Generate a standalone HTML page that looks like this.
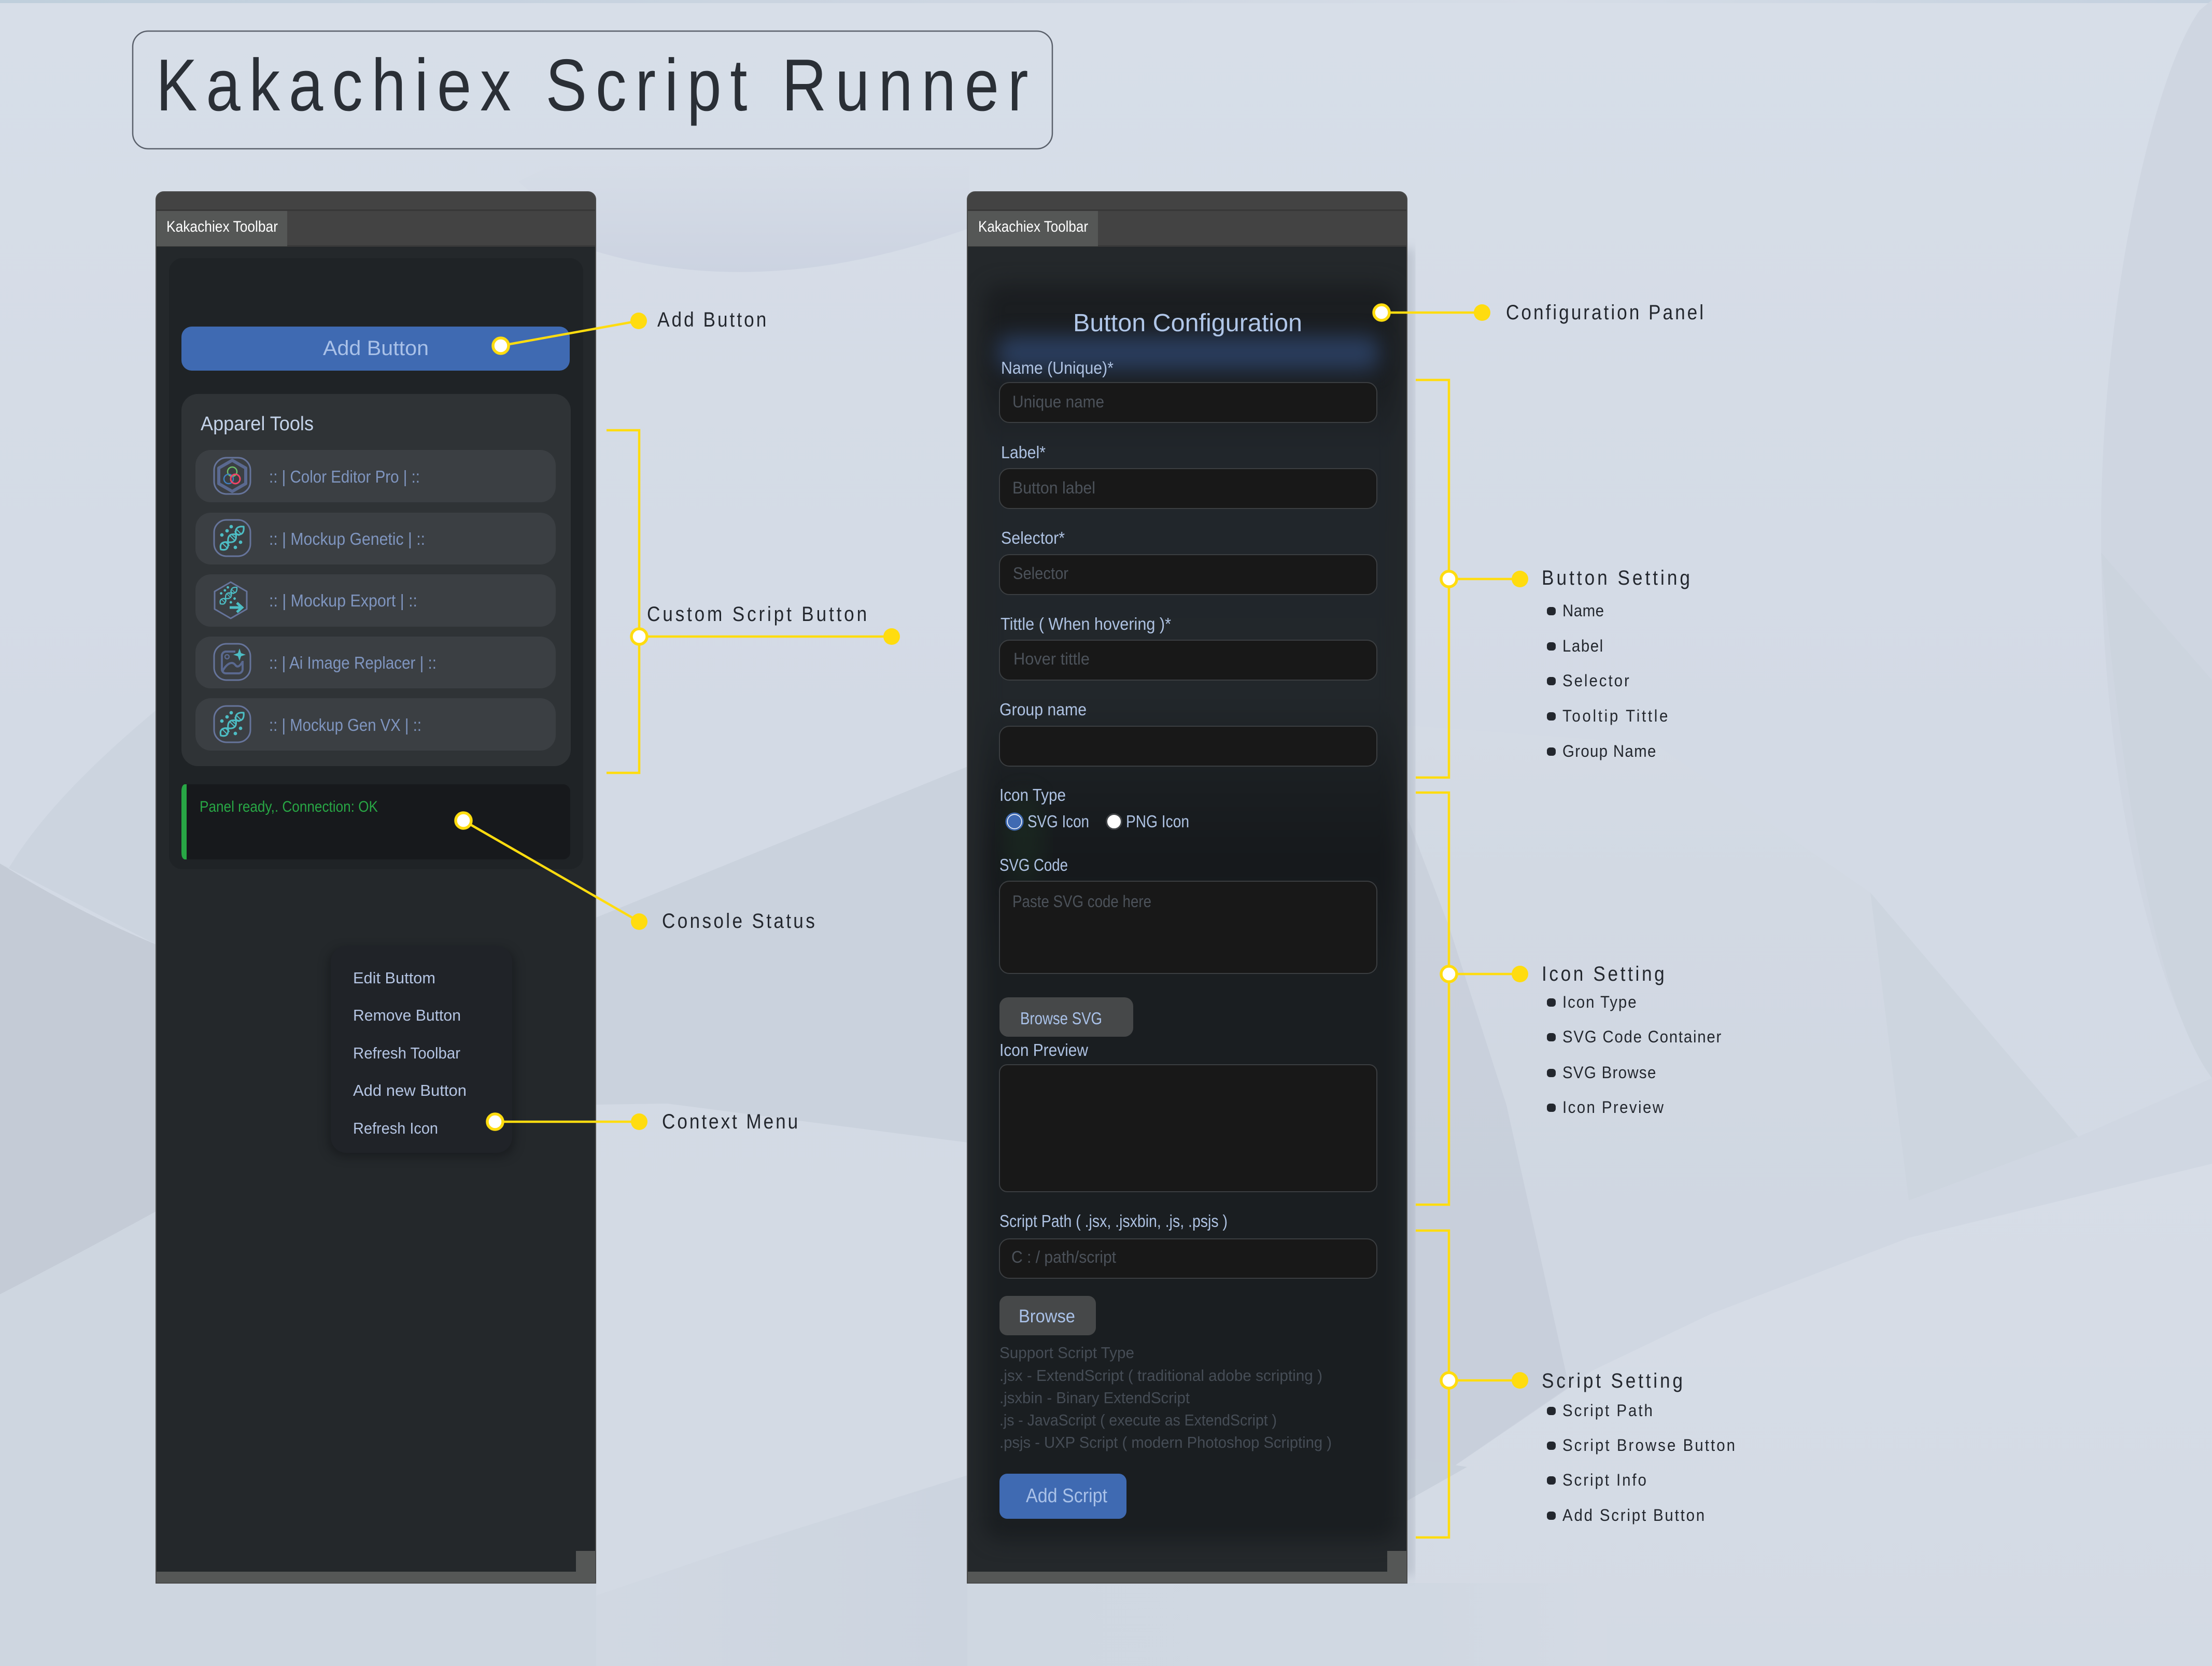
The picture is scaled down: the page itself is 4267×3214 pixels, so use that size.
<!DOCTYPE html>
<html><head><meta charset="utf-8"><title>Kakachiex Script Runner</title>
<style>
html,body{margin:0;padding:0;background:#d5dce6}
svg{display:block}
text{font-family:"Liberation Sans",sans-serif;white-space:pre}
.an{fill:#23272e;font-size:40px}
.sb{fill:#23272e;font-size:32px}
.lb{fill:#aec2e2;font-size:33px}
.ph{fill:#4c525a;font-size:32px}
.it{fill:#7f95bf;font-size:33px}
.cm{fill:#b4c4e2;font-size:31px}
.sp{fill:#464d56;font-size:31px}
.y{stroke:#ffdc0f;stroke-width:4.5;fill:none}
.n{fill:#fff;stroke:#ffdc0f;stroke-width:5.5}
.d{fill:#ffdc0f}
.inp{fill:#181818;stroke:#3b3e41;stroke-width:2}
.bul{fill:#23272e}
</style></head>
<body>
<svg xmlns="http://www.w3.org/2000/svg" width="4267" height="3214" viewBox="0 0 4267 3214">
<defs>
<linearGradient id="bg" x1="0" y1="0" x2="0" y2="1"><stop offset="0" stop-color="#d7dee8"/><stop offset=".45" stop-color="#d3dae5"/><stop offset="1" stop-color="#d3dae4"/></linearGradient>
<linearGradient id="top" x1="0" y1="0" x2="1" y2="0"><stop offset="0" stop-color="#bfcfdc"/><stop offset=".4" stop-color="#ccd5e1"/><stop offset=".7" stop-color="#d6dde7"/><stop offset="1" stop-color="#c3d0de"/></linearGradient>
<linearGradient id="sw" x1="0" y1="0" x2="0" y2="1"><stop offset=".35" stop-color="#ccd3e1" stop-opacity="0"/><stop offset="1" stop-color="#ccd3e1"/></linearGradient>
<linearGradient id="ra" x1="0" y1="0" x2="0" y2="1"><stop offset="0" stop-color="#d4dbe5"/><stop offset=".3" stop-color="#d2d9e3"/><stop offset="1" stop-color="#d0d7e2"/></linearGradient>
<linearGradient id="rb" x1="0" y1="0" x2="0" y2="1"><stop offset="0" stop-color="#d7dde7"/><stop offset="1" stop-color="#d3dae4"/></linearGradient>
<linearGradient id="gb" x1="0" y1="0" x2="1" y2="0"><stop offset="0" stop-color="#d1d8e2"/><stop offset="1" stop-color="#ccd4df"/></linearGradient>
<linearGradient id="bb" gradientUnits="userSpaceOnUse" x1="1866" y1="0" x2="3100" y2="0"><stop offset="0" stop-color="#cfd7e1"/><stop offset=".7" stop-color="#d0d8e2"/><stop offset="1" stop-color="#d4dae4"/></linearGradient>
<linearGradient id="panel" x1="0" y1="0" x2="0" y2="1">
<stop offset="0" stop-color="#1b1e21"/><stop offset=".07" stop-color="#1a1d20"/><stop offset=".13" stop-color="#21262b"/><stop offset=".33" stop-color="#22272b"/><stop offset=".4" stop-color="#1a1e21"/><stop offset=".46" stop-color="#16191c"/><stop offset=".55" stop-color="#1a1e21"/><stop offset="1" stop-color="#1a1e21"/></linearGradient>
<filter id="b8" x="-10%" y="-10%" width="120%" height="120%" color-interpolation-filters="sRGB"><feGaussianBlur stdDeviation="10"/></filter>
<filter id="b16" x="-10%" y="-10%" width="120%" height="120%" color-interpolation-filters="sRGB"><feGaussianBlur stdDeviation="18"/></filter>
<filter id="b20" x="-20%" y="-80%" width="140%" height="260%" color-interpolation-filters="sRGB"><feGaussianBlur stdDeviation="20"/></filter>
<g id="dna" fill="none" stroke="#4dbdc4" stroke-width="3.2" stroke-linecap="round">
<path d="M-22 22Q-6 26-8 8T7-7T22-22"/><path d="M-22 22Q-26 6-8 8T7-7T22-22" />
<path d="M-10 19L-19 10M-6 14L-14 7M4 4L-4-4M7 0L0-6M17-8L8-17M13-5L5-12" stroke-width="2"/>
<circle cx="-20" cy="-6" r="1.8" fill="#4dbdc4"/><circle cx="-10" cy="-14" r="1.8" fill="#4dbdc4"/><circle cx="16" cy="8" r="1.8" fill="#4dbdc4"/><circle cx="6" cy="18" r="1.8" fill="#4dbdc4"/><circle cx="-2" cy="-22" r="1.8" fill="#4dbdc4"/>
</g>
</defs>

<!-- background -->
<rect width="4267" height="3214" fill="url(#bg)"/>
<rect width="4267" height="6" fill="url(#top)"/>
<!-- left strip -->
<path d="M0 1705C60 1590 170 1480 301 1370L301 1822L0 1666Z" fill="#ccd4df"/>
<path d="M0 1666Q150 1760 301 1822L301 2337Q150 2420 0 2497Z" fill="#c4cbd6"/>
<path d="M0 2497Q150 2420 301 2337L301 3214L0 3214Z" fill="#ced6e0"/>
<rect x="301" y="3054" width="849" height="160" fill="#ced6e0"/>
<!-- top swoosh -->
<path d="M1000 350L1150 485C1400 560 1650 520 1870 440L1870 250L1300 200Z" fill="url(#sw)"/>
<!-- gap shapes -->
<path d="M1150 1770L1866 1479L1866 2204L1287 2129L1150 2131Z" fill="#cad2dd"/>
<path d="M1866 2846L1424 2985L1150 3078L1150 3214L1866 3214Z" fill="url(#gb)"/>
<rect x="1866" y="3054" width="849" height="160" fill="url(#bb)"/>
<!-- right area shapes -->
<path d="M2715 1400L3193 1435L3608 1722L4009 2193L3682 2316L3353 2388L3034 2398L2715 2357Z" fill="url(#ra)"/>
<path d="M3608 1722L4009 2193L3682 2316Z" fill="#cdd5df"/>
<path d="M2715 2357L3034 2398L3353 2388L3682 2316L4009 2193L4267 2080L4267 2245L3682 2388L3300 2535L3072 2644L2715 2890Z" fill="#d0d7e2"/>
<path d="M2715 2890L3072 2644L3300 2535L3682 2388L4267 2245L4267 3214L2715 3214Z" fill="url(#rb)"/>
<path d="M2715 3054H3100V3214H2715Z" fill="url(#bb)"/>
<path d="M2715 1578L2795 1787L2906 2132L2966 2400L3027 2677L2715 2890Z" fill="#a0aab8" opacity=".16"/>
<path d="M2715 2812L2830 2830L2715 2895Z" fill="#c8d0db"/>
<path d="M4243 20C4150 150 4053 600 4053 1025C4053 1500 4150 1900 4267 2080L4267 0Z" fill="#cfd6e1"/>
<path d="M4053 1066C4100 1600 4170 1950 4267 2080L4267 1312Z" fill="#ccd4de"/>

<!-- title -->
<rect x="256" y="60" width="1774" height="227" rx="30" fill="none" stroke="#5a606b" stroke-width="2.5"/>
<text transform="translate(301 213) scale(.84 1)" font-size="142" fill="#2a2f36" textLength="2003" lengthAdjust="spacing">Kakachiex Script Runner</text>

<!-- LEFT PANEL -->
<path d="M301 385a15 15 0 0 1 15-15H1134a15 15 0 0 1 15 15V3054H301Z" fill="#24282b"/>
<path d="M301 475V385a15 15 0 0 1 15-15H1134a15 15 0 0 1 15 15V475Z" fill="#434343"/>
<rect x="301" y="404" width="848" height="3" fill="#383838"/>
<rect x="301" y="473" width="848" height="3" fill="#3a3a3a"/>
<rect x="301" y="407" width="253" height="68" fill="#555756"/>
<text x="321" y="447" font-size="30" fill="#fff" textLength="215" lengthAdjust="spacingAndGlyphs">Kakachiex Toolbar</text>
<rect x="326" y="498" width="799" height="1179" rx="26" fill="#1f2326"/>
<rect x="350" y="630" width="749" height="85" rx="20" fill="#3f6ab2"/>
<text x="623" y="685" font-size="40" fill="#a9c1e8" textLength="204" lengthAdjust="spacingAndGlyphs">Add Button</text>
<rect x="350" y="760" width="751" height="718" rx="32" fill="#2f3336"/>
<text x="387" y="830" font-size="38" fill="#c4d3e9" textLength="218" lengthAdjust="spacingAndGlyphs">Apparel Tools</text>

<rect x="377" y="868" width="695" height="101" rx="30" fill="#3b3f43"/>
<rect x="377" y="989" width="695" height="100" rx="30" fill="#3b3f43"/>
<rect x="377" y="1108" width="695" height="101" rx="30" fill="#3b3f43"/>
<rect x="377" y="1228" width="695" height="100" rx="30" fill="#3b3f43"/>
<rect x="377" y="1347" width="695" height="101" rx="30" fill="#3b3f43"/>

<text class="it" x="519" y="931" textLength="291" lengthAdjust="spacingAndGlyphs">:: | Color Editor Pro | ::</text>
<text class="it" x="519" y="1051" textLength="301" lengthAdjust="spacingAndGlyphs">:: | Mockup Genetic | ::</text>
<text class="it" x="519" y="1170" textLength="286" lengthAdjust="spacingAndGlyphs">:: | Mockup Export | ::</text>
<text class="it" x="519" y="1290" textLength="323" lengthAdjust="spacingAndGlyphs">:: | Ai Image Replacer | ::</text>
<text class="it" x="519" y="1410" textLength="294" lengthAdjust="spacingAndGlyphs">:: | Mockup Gen VX | ::</text>

<!-- icon 1 -->
<g transform="translate(448 918)">
<rect x="-35" y="-35" width="70" height="70" rx="24" fill="none" stroke="#66749b" stroke-width="3"/>
<path d="M0-30L26-15V15L0 30L-26 15V-15Z" fill="none" stroke="#5a6990" stroke-width="6" stroke-linejoin="round"/>
<circle cx="0" cy="-8" r="9" fill="none" stroke="#6cc06a" stroke-width="2.5"/>
<circle cx="-7" cy="6" r="9" fill="none" stroke="#3f7fc0" stroke-width="2.5"/>
<circle cx="6" cy="6" r="9" fill="none" stroke="#ef4468" stroke-width="3"/>
</g>
<!-- icon 2 -->
<g transform="translate(448 1038)">
<rect x="-35" y="-35" width="70" height="70" rx="24" fill="none" stroke="#66749b" stroke-width="3"/>
<use href="#dna"/>
</g>
<!-- icon 3 -->
<g transform="translate(445 1158)">
<path d="M0-35L31-17V17L0 35L-31 17V-17Z" fill="none" stroke="#66749b" stroke-width="3" stroke-linejoin="round"/>
<use href="#dna" transform="translate(-4 -9) scale(.72)"/>
<path d="M-2 14H20M12 5L22 14L12 23" fill="none" stroke="#4dbdc4" stroke-width="5"/>
</g>
<!-- icon 4 -->
<g transform="translate(448 1277)">
<rect x="-35" y="-35" width="70" height="70" rx="24" fill="none" stroke="#66749b" stroke-width="3"/>
<path d="M6-20H-12a8 8 0 0 0-8 8V14a8 8 0 0 0 8 8H12a8 8 0 0 0 8-8V-2" fill="none" stroke="#5a6990" stroke-width="4"/>
<path d="M-19 18C-10 2 0-2 6 6S18 2 20 0" fill="none" stroke="#5a6990" stroke-width="4"/>
<circle cx="-10" cy="-10" r="4" fill="none" stroke="#5a6990" stroke-width="2.5"/>
<path d="M14-26L17-17L26-14L17-11L14-2L11-11L2-14L11-17Z" fill="#4dbdc4"/>
</g>
<!-- icon 5 -->
<g transform="translate(448 1397)">
<rect x="-35" y="-35" width="70" height="70" rx="24" fill="none" stroke="#66749b" stroke-width="3"/>
<use href="#dna"/>
</g>

<!-- console -->
<rect x="350" y="1513" width="750" height="145" rx="14" fill="#17191c"/>
<path d="M360 1513H356Q350 1515 350 1527V1645Q350 1656 356 1658H360Z" fill="#28a745"/>
<text x="385" y="1566" font-size="30" fill="#28a745" textLength="344" lengthAdjust="spacingAndGlyphs">Panel ready,. Connection: OK</text>

<!-- context menu -->
<rect x="634" y="1831" width="358" height="400" rx="30" fill="#0d0f12" opacity=".5" filter="url(#b8)"/>
<rect x="638" y="1825" width="350" height="399" rx="30" fill="#202328"/>
<text class="cm" x="681" y="1897" textLength="159" lengthAdjust="spacingAndGlyphs">Edit Buttom</text>
<text class="cm" x="681" y="1969" textLength="208" lengthAdjust="spacingAndGlyphs">Remove Button</text>
<text class="cm" x="681" y="2042" textLength="207" lengthAdjust="spacingAndGlyphs">Refresh Toolbar</text>
<text class="cm" x="681" y="2114" textLength="219" lengthAdjust="spacingAndGlyphs">Add new Button</text>
<text class="cm" x="681" y="2187" textLength="164" lengthAdjust="spacingAndGlyphs">Refresh Icon</text>

<rect x="301" y="3032" width="848" height="22" fill="#555756"/>
<rect x="1111" y="2992" width="38" height="40" fill="#555756"/>
<path d="M301 385a15 15 0 0 1 15-15H1134a15 15 0 0 1 15 15V3054H301Z" fill="none" stroke="#4a4a4a" stroke-width="2"/>

<!-- RIGHT PANEL -->
<rect x="2704" y="480" width="24" height="2560" fill="#8c94a3" opacity=".35" filter="url(#b8)"/>
<path d="M1866 385a15 15 0 0 1 15-15H2699a15 15 0 0 1 15 15V3054H1866Z" fill="#24282b"/>
<path d="M1866 475V385a15 15 0 0 1 15-15H2699a15 15 0 0 1 15 15V475Z" fill="#434343"/>
<rect x="1866" y="404" width="848" height="3" fill="#383838"/>
<rect x="1866" y="473" width="848" height="3" fill="#3a3a3a"/>
<rect x="1866" y="407" width="252" height="68" fill="#555756"/>
<text x="1887" y="447" font-size="30" fill="#fff" textLength="212" lengthAdjust="spacingAndGlyphs">Kakachiex Toolbar</text>
<clipPath id="rc"><rect x="1866" y="476" width="848" height="2556"/></clipPath>
<g clip-path="url(#rc)"><rect x="1897" y="548" width="800" height="2424" rx="36" fill="url(#panel)" filter="url(#b16)"/></g>
<rect x="1925" y="648" width="735" height="66" rx="20" fill="#2b3f61" opacity=".95" filter="url(#b20)"/>
<ellipse cx="1975" cy="1620" rx="40" ry="90" fill="#1c3022" opacity=".5" filter="url(#b20)"/>

<text x="2070" y="639" font-size="48" fill="#b0c6e8" textLength="442" lengthAdjust="spacingAndGlyphs">Button Configuration</text>

<text class="lb" x="1931" y="721" textLength="217" lengthAdjust="spacingAndGlyphs">Name (Unique)*</text>
<rect class="inp" x="1928" y="738" width="728" height="77" rx="19"/>
<text class="ph" x="1953" y="786" textLength="177" lengthAdjust="spacingAndGlyphs">Unique name</text>

<text class="lb" x="1931" y="884" textLength="86" lengthAdjust="spacingAndGlyphs">Label*</text>
<rect class="inp" x="1928" y="904" width="728" height="77" rx="19"/>
<text class="ph" x="1953" y="952" textLength="160" lengthAdjust="spacingAndGlyphs">Button label</text>

<text class="lb" x="1931" y="1049" textLength="123" lengthAdjust="spacingAndGlyphs">Selector*</text>
<rect class="inp" x="1928" y="1070" width="728" height="77" rx="19"/>
<text class="ph" x="1954" y="1117" textLength="107" lengthAdjust="spacingAndGlyphs">Selector</text>

<text class="lb" x="1930" y="1215" textLength="329" lengthAdjust="spacingAndGlyphs">Tittle ( When hovering )*</text>
<rect class="inp" x="1928" y="1235" width="728" height="77" rx="19"/>
<text class="ph" x="1955" y="1282" textLength="147" lengthAdjust="spacingAndGlyphs">Hover tittle</text>

<text class="lb" x="1928" y="1380" textLength="168" lengthAdjust="spacingAndGlyphs">Group name</text>
<rect class="inp" x="1928" y="1401" width="728" height="77" rx="19"/>

<text class="lb" x="1928" y="1545" textLength="128" lengthAdjust="spacingAndGlyphs">Icon Type</text>
<circle cx="1957" cy="1585" r="14.5" fill="#3f6ab2" stroke="#fff" stroke-width="3"/>
<circle cx="1957" cy="1585" r="16" fill="none" stroke="#3f6ab2" stroke-width="3"/>
<text class="lb" x="1982" y="1596" textLength="119" lengthAdjust="spacingAndGlyphs">SVG Icon</text>
<circle cx="2149" cy="1585" r="14.5" fill="#fff" stroke="#3f4245" stroke-width="3"/>
<text class="lb" x="2172" y="1596" textLength="122" lengthAdjust="spacingAndGlyphs">PNG Icon</text>

<text class="lb" x="1928" y="1680" textLength="132" lengthAdjust="spacingAndGlyphs">SVG Code</text>
<rect class="inp" x="1928" y="1700" width="728" height="178" rx="19"/>
<text class="ph" x="1953" y="1750" textLength="268" lengthAdjust="spacingAndGlyphs">Paste SVG code here</text>

<rect x="1928" y="1924" width="258" height="76" rx="17" fill="#464849"/>
<text x="1968" y="1976" font-size="33" fill="#a9c1e8" textLength="158" lengthAdjust="spacingAndGlyphs">Browse SVG</text>

<text class="lb" x="1928" y="2037" textLength="171" lengthAdjust="spacingAndGlyphs">Icon Preview</text>
<rect class="inp" x="1928" y="2054" width="728" height="245" rx="15"/>

<text class="lb" x="1928" y="2367" textLength="440" lengthAdjust="spacingAndGlyphs">Script Path ( .jsx, .jsxbin, .js, .psjs )</text>
<rect class="inp" x="1928" y="2390" width="728" height="76" rx="19"/>
<text class="ph" x="1951" y="2436" textLength="202" lengthAdjust="spacingAndGlyphs">C : / path/script</text>

<rect x="1928" y="2500" width="186" height="76" rx="15" fill="#464849"/>
<text x="1965" y="2551" font-size="35" fill="#a9c1e8" textLength="109" lengthAdjust="spacingAndGlyphs">Browse</text>

<text class="sp" x="1928" y="2620" textLength="260" lengthAdjust="spacingAndGlyphs">Support Script Type</text>
<text class="sp" x="1928" y="2664" textLength="623" lengthAdjust="spacingAndGlyphs">.jsx - ExtendScript ( traditional adobe scripting )</text>
<text class="sp" x="1928" y="2707" textLength="367" lengthAdjust="spacingAndGlyphs">.jsxbin - Binary ExtendScript</text>
<text class="sp" x="1928" y="2750" textLength="535" lengthAdjust="spacingAndGlyphs">.js - JavaScript ( execute as ExtendScript )</text>
<text class="sp" x="1928" y="2793" textLength="641" lengthAdjust="spacingAndGlyphs">.psjs - UXP Script ( modern Photoshop Scripting )</text>

<rect x="1928" y="2843" width="245" height="87" rx="15" fill="#3f6ab2"/>
<text x="1979" y="2898" font-size="38" fill="#a9c1e8" textLength="157" lengthAdjust="spacingAndGlyphs">Add Script</text>

<rect x="1866" y="3032" width="848" height="22" fill="#555756"/>
<rect x="2676" y="2992" width="38" height="40" fill="#555756"/>
<path d="M1866 385a15 15 0 0 1 15-15H2699a15 15 0 0 1 15 15V3054H1866Z" fill="none" stroke="#4a4a4a" stroke-width="2"/>

<!-- connectors -->
<path class="y" d="M966 667L1232 619"/>
<circle class="d" cx="1232" cy="619" r="16"/>
<circle class="n" cx="966" cy="667" r="15"/>
<text class="an" transform="translate(1268 630) scale(.88 1)" textLength="239" lengthAdjust="spacing">Add Button</text>

<path class="y" d="M1170 830H1233V1491H1170M1233 1228H1720"/>
<circle class="d" cx="1720" cy="1228" r="16"/>
<circle class="n" cx="1233" cy="1228" r="15"/>
<text class="an" transform="translate(1248 1198) scale(.88 1)" textLength="482" lengthAdjust="spacing">Custom Script Button</text>

<path class="y" d="M894 1583L1233 1778"/>
<circle class="d" cx="1233" cy="1778" r="16"/>
<circle class="n" cx="894" cy="1583" r="15"/>
<text class="an" transform="translate(1277 1790) scale(.88 1)" textLength="335" lengthAdjust="spacing">Console Status</text>

<path class="y" d="M955 2164H1233"/>
<circle class="d" cx="1233" cy="2164" r="16"/>
<circle class="n" cx="955" cy="2164" r="15"/>
<text class="an" transform="translate(1277 2177) scale(.88 1)" textLength="298" lengthAdjust="spacing">Context Menu</text>

<path class="y" d="M2665 603H2859"/>
<circle class="d" cx="2859" cy="603" r="16"/>
<circle class="n" cx="2665" cy="603" r="15"/>
<text class="an" transform="translate(2905 616) scale(.88 1)" textLength="433" lengthAdjust="spacing">Configuration Panel</text>

<path class="y" d="M2731 733H2795V1500H2731M2795 1117H2932"/>
<circle class="d" cx="2932" cy="1117" r="16"/>
<circle class="n" cx="2795" cy="1117" r="15"/>
<text class="an" transform="translate(2974 1128) scale(.88 1)" textLength="325" lengthAdjust="spacing">Button Setting</text>

<path class="y" d="M2731 1529H2795V2324H2731M2795 1879H2932"/>
<circle class="d" cx="2932" cy="1879" r="16"/>
<circle class="n" cx="2795" cy="1879" r="15"/>
<text class="an" transform="translate(2974 1892) scale(.88 1)" textLength="269" lengthAdjust="spacing">Icon Setting</text>

<path class="y" d="M2731 2374H2795V2966H2731M2795 2663H2932"/>
<circle class="d" cx="2932" cy="2663" r="16"/>
<circle class="n" cx="2795" cy="2663" r="15"/>
<text class="an" transform="translate(2974 2677) scale(.88 1)" textLength="309" lengthAdjust="spacing">Script Setting</text>

<!-- sub items -->
<rect class="bul" x="2984" y="1171" width="17" height="16" rx="6"/>
<text class="sb" transform="translate(3014 1189) scale(.92 1)" textLength="87" lengthAdjust="spacing">Name</text>
<rect class="bul" x="2984" y="1239" width="17" height="16" rx="6"/>
<text class="sb" transform="translate(3014 1257) scale(.92 1)" textLength="85" lengthAdjust="spacing">Label</text>
<rect class="bul" x="2984" y="1306" width="17" height="16" rx="6"/>
<text class="sb" transform="translate(3014 1324) scale(.92 1)" textLength="140" lengthAdjust="spacing">Selector</text>
<rect class="bul" x="2984" y="1374" width="17" height="16" rx="6"/>
<text class="sb" transform="translate(3014 1392) scale(.92 1)" textLength="221" lengthAdjust="spacing">Tooltip Tittle</text>
<rect class="bul" x="2984" y="1442" width="17" height="16" rx="6"/>
<text class="sb" transform="translate(3014 1460) scale(.92 1)" textLength="196" lengthAdjust="spacing">Group Name</text>

<rect class="bul" x="2984" y="1926" width="17" height="16" rx="6"/>
<text class="sb" transform="translate(3014 1944) scale(.92 1)" textLength="155" lengthAdjust="spacing">Icon Type</text>
<rect class="bul" x="2984" y="1993" width="17" height="16" rx="6"/>
<text class="sb" transform="translate(3014 2011) scale(.92 1)" textLength="333" lengthAdjust="spacing">SVG Code Container</text>
<rect class="bul" x="2984" y="2062" width="17" height="16" rx="6"/>
<text class="sb" transform="translate(3014 2080) scale(.92 1)" textLength="196" lengthAdjust="spacing">SVG Browse</text>
<rect class="bul" x="2984" y="2129" width="17" height="16" rx="6"/>
<text class="sb" transform="translate(3014 2147) scale(.92 1)" textLength="212" lengthAdjust="spacing">Icon Preview</text>

<rect class="bul" x="2984" y="2714" width="17" height="16" rx="6"/>
<text class="sb" transform="translate(3014 2732) scale(.92 1)" textLength="189" lengthAdjust="spacing">Script Path</text>
<rect class="bul" x="2984" y="2781" width="17" height="16" rx="6"/>
<text class="sb" transform="translate(3014 2799) scale(.92 1)" textLength="362" lengthAdjust="spacing">Script Browse Button</text>
<rect class="bul" x="2984" y="2848" width="17" height="16" rx="6"/>
<text class="sb" transform="translate(3014 2866) scale(.92 1)" textLength="176" lengthAdjust="spacing">Script Info</text>
<rect class="bul" x="2984" y="2916" width="17" height="16" rx="6"/>
<text class="sb" transform="translate(3014 2934) scale(.92 1)" textLength="298" lengthAdjust="spacing">Add Script Button</text>
</svg>
</body></html>
